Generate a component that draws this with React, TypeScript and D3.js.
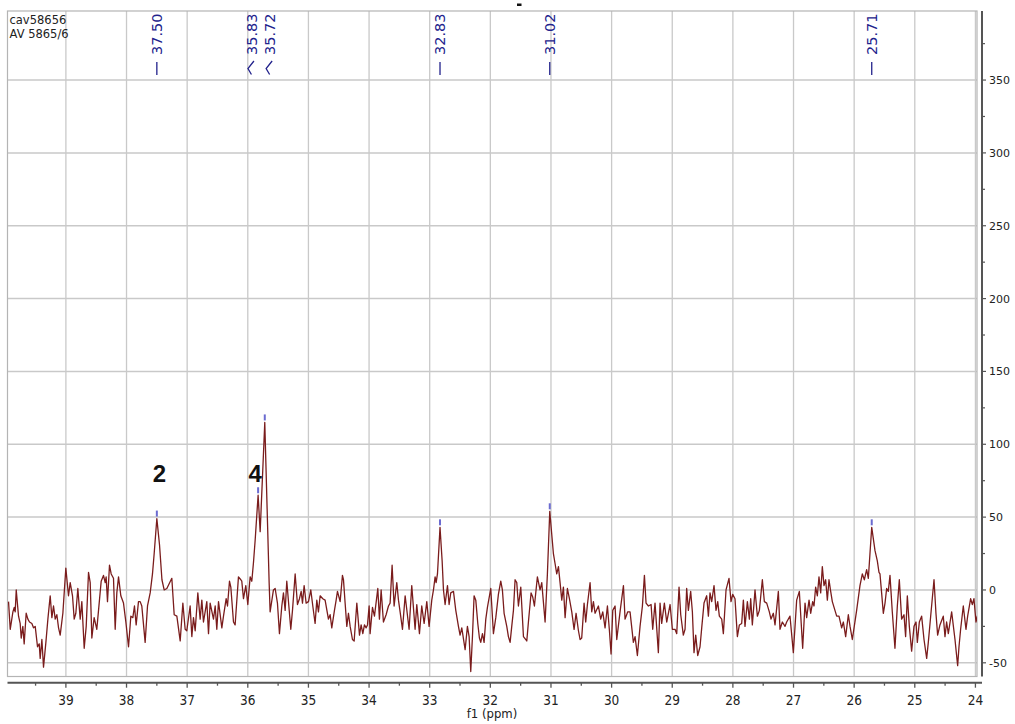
import React, { useEffect, useRef } from 'react';
import * as d3 from 'd3';

// 13C spectrum trace, [shift (ppm), intensity]
const spectrum: [number, number][] = [
  [39.946, -8], [39.918, -27], [39.874, -15], [39.852, -12], [39.836, -15], [39.819, 0], [39.781, -18],
  [39.754, -23], [39.737, -33], [39.710, -25], [39.688, -37], [39.655, -16], [39.627, -20], [39.600, -22],
  [39.561, -23], [39.534, -26], [39.506, -25], [39.468, -39], [39.440, -37], [39.424, -47], [39.396, -34],
  [39.369, -53], [39.330, -36], [39.297, -20], [39.259, -4], [39.231, -19], [39.204, -11], [39.176, -20],
  [39.149, -17], [39.121, -26], [39.094, -31], [39.050, -16], [39.001, 15], [38.957, -4], [38.929, 5],
  [38.891, -4], [38.863, -20], [38.836, -16], [38.803, 1], [38.764, -20], [38.737, -8], [38.698, -40],
  [38.665, -25], [38.627, 12], [38.599, 5], [38.572, -33], [38.534, -19], [38.490, -27], [38.451, -9],
  [38.418, 6], [38.380, 10], [38.352, 5], [38.336, 9], [38.314, -8], [38.281, 17], [38.253, 11],
  [38.215, 8], [38.187, -27], [38.160, -2], [38.132, 9], [38.094, -4], [38.050, -9], [38.011, -22],
  [37.967, -39], [37.929, -18], [37.896, -19], [37.869, -11], [37.841, -24], [37.803, -8], [37.775, -8],
  [37.748, -11], [37.693, -36], [37.654, -11], [37.610, -2], [37.572, 11], [37.544, 25], [37.500, 49],
  [37.456, 31], [37.416, 7], [37.379, 0], [37.335, 1], [37.253, 8], [37.214, -17], [37.170, -18],
  [37.115, -35], [37.071, -9], [37.033, -27], [37.006, -28], [36.951, -11], [36.923, -32], [36.896, -19],
  [36.868, -28], [36.824, -2], [36.786, -20], [36.758, -7], [36.731, -22], [36.676, -8], [36.648, -30],
  [36.621, -9], [36.566, -20], [36.538, -11], [36.511, -27], [36.483, -8], [36.428, -26], [36.401, -18],
  [36.357, -6], [36.335, -11], [36.302, 6], [36.280, 2], [36.236, -22], [36.209, -24], [36.154, 9],
  [36.115, 7], [36.099, 6], [36.071, -6], [36.033, 3], [36.000, -10], [35.961, 9], [35.934, 6],
  [35.906, 19], [35.879, 34], [35.830, 65], [35.796, 40], [35.720, 115], [35.648, 5], [35.632, -15],
  [35.577, 0], [35.549, 1], [35.511, -9], [35.478, -30], [35.439, -11], [35.412, -2], [35.384, -14],
  [35.357, 6], [35.291, -27], [35.263, -14], [35.219, 11], [35.181, -10], [35.148, -6], [35.120, -1],
  [35.098, -9], [35.071, 3], [35.038, -9], [34.999, -8], [34.961, 0], [34.928, -11], [34.890, -23],
  [34.862, -7], [34.835, -15], [34.807, -4], [34.763, -6], [34.725, -7], [34.670, -20], [34.642, -17],
  [34.615, -26], [34.571, -14], [34.543, -7], [34.521, -1], [34.477, -8],
  [34.439, 10], [34.422, 7], [34.395, -9], [34.367, -25], [34.340, -16], [34.312, -25], [34.274, -34],
  [34.246, -35], [34.202, -9], [34.158, -31], [34.131, -24], [34.103, -30], [34.076, -24], [34.048, -26],
  [34.026, -24], [33.999, -11], [33.983, -30], [33.944, -12], [33.911, -18], [33.856, 1], [33.829, -20],
  [33.801, 0], [33.763, -22], [33.719, -17], [33.680, -11], [33.653, -9], [33.620, 17], [33.587, -11],
  [33.543, 5], [33.515, -7], [33.488, -15], [33.449, -27], [33.405, -4], [33.340, -27], [33.296, 3],
  [33.241, -27], [33.213, -10], [33.169, -30], [33.131, -11], [33.092, -23], [33.048, -8], [33.010, -25],
  [32.966, -7], [32.938, 0], [32.911, 9], [32.894, 5], [32.872, 11], [32.830, 43], [32.795, 20],
  [32.773, 0], [32.746, -10], [32.707, 3], [32.680, -10], [32.653, -2], [32.608, -1], [32.570, -14],
  [32.526, -25], [32.499, -31], [32.471, -26], [32.416, -41], [32.378, -25], [32.350, -32], [32.323, -56],
  [32.295, -32], [32.268, -4], [32.240, -7], [32.207, -23], [32.180, -33], [32.158, -36], [32.130, -30],
  [32.103, -36], [32.075, -20], [32.048, -12], [31.993, 1], [31.949, -30], [31.910, -19], [31.867, -3],
  [31.828, 6], [31.801, 0], [31.773, -16], [31.729, -25], [31.702, -32], [31.674, -36], [31.647, -25],
  [31.619, -14], [31.592, 7], [31.564, 5], [31.537, -11], [31.498, 2], [31.454, -32], [31.399, -35],
  [31.372, -22], [31.328, -2], [31.300, -5], [31.273, -11], [31.224, 9], [31.180, 0], [31.152, 5],
  [31.097, -22], [31.059, 11], [31.020, 54], [30.960, 25], [30.932, 18], [30.905, 11], [30.877, 16],
  [30.850, 5], [30.822, -7], [30.795, 2], [30.767, -19], [30.729, 1], [30.696, -6], [30.657, -15],
  [30.619, -27], [30.586, -16], [30.547, -28], [30.520, -34], [30.493, -33], [30.454, -9], [30.427, -22],
  [30.399, -10], [30.355, 5], [30.328, -15], [30.300, -8], [30.273, -16], [30.218, -11], [30.180, -20],
  [30.146, -15], [30.108, -26], [30.069, -11], [30.036, -28], [30.009, -44], [29.981, -14], [29.943, -11],
  [29.915, -34], [29.861, -15], [29.805, 3], [29.778, -20], [29.734, -15], [29.696, -15], [29.641, -36],
  [29.613, -32], [29.575, -45], [29.531, -25], [29.492, -11], [29.459, 10], [29.432, -9], [29.393, -11],
  [29.349, -10], [29.322, -27], [29.284, -9], [29.229, -43], [29.201, -9], [29.174, -23], [29.130, -9],
  [29.091, -22], [29.036, -10],
  [28.998, -27], [28.954, -27], [28.926, -30], [28.888, 2], [28.860, -17], [28.817, -31], [28.789, -27],
  [28.762, 1], [28.734, -14], [28.696, -1], [28.668, -15], [28.641, -43], [28.613, -31], [28.580, -45],
  [28.542, -39], [28.514, -26], [28.476, -9], [28.432, -4], [28.404, -18], [28.377, -2], [28.349, -8],
  [28.311, 3], [28.278, -14], [28.250, -8], [28.223, -18], [28.184, -20], [28.157, -30], [28.113, 0],
  [28.064, 8], [28.031, -8], [28.003, -3], [27.965, -6], [27.926, -32], [27.893, -24], [27.855, -23],
  [27.827, -7], [27.800, -25], [27.761, -8], [27.728, -20], [27.706, -6], [27.679, -24], [27.635, 0],
  [27.596, -18], [27.563, -14], [27.514, 7], [27.481, -8], [27.442, -9], [27.399, -15], [27.371, -20],
  [27.333, -16], [27.305, -24], [27.250, -1], [27.223, -27], [27.184, -22], [27.140, -25], [27.113, -22],
  [27.058, -18], [27.003, -43], [26.975, -25], [26.948, -7], [26.904, -1], [26.849, -40], [26.810, -9],
  [26.783, -19], [26.744, -7], [26.717, -16], [26.684, -8], [26.662, -11], [26.635, 2], [26.607, -4],
  [26.580, 9], [26.552, -2], [26.525, 16], [26.497, 3], [26.470, 7], [26.442, -7], [26.415, 7],
  [26.387, -1], [26.360, -8], [26.288, -18], [26.250, -18], [26.206, -26], [26.178, -22], [26.140, -32],
  [26.096, -17], [26.068, -25], [26.030, -34], [25.959, -14], [25.904, 3], [25.865, 11], [25.832, 7],
  [25.794, 14], [25.766, 8], [25.739, 25], [25.710, 43], [25.656, 27], [25.618, 20], [25.590, 12],
  [25.574, 11], [25.547, -2], [25.519, -16], [25.491, -9], [25.464, 1], [25.437, -1], [25.409, 10],
  [25.371, -15], [25.327, -40], [25.288, -11], [25.255, 7], [25.217, -20], [25.178, -17], [25.151, -32],
  [25.123, -4], [25.090, -25], [25.052, -42], [25.013, -25], [24.980, -22], [24.958, -36], [24.925, -22],
  [24.887, -18], [24.848, -34], [24.804, -47], [24.777, -36], [24.738, -18], [24.683, 7], [24.651, -16],
  [24.623, -31], [24.585, -24], [24.530, -18], [24.502, -32], [24.475, -22], [24.447, -30], [24.392, -15],
  [24.337, -34], [24.293, -52], [24.271, -39], [24.244, -27], [24.200, -11], [24.156, -27], [24.128, -18],
  [24.079, -6], [24.051, -10], [24.024, -6], [23.991, -22], [23.969, -18], [23.952, -28],
];

// picked peaks
const peakShift = [37.50, 35.83, 35.72, 32.83, 31.02, 25.71];
const peakHeight = [49, 65, 115, 43, 54, 43];
const peakText = ['37.50', '35.83', '35.72', '32.83', '31.02', '25.71'];
const peakLabelShift = [37.50, 35.94, 35.64, 32.83, 31.02, 25.71];

// assignment numbers drawn on the spectrum
const assignText = ['2', '4'];
const assignShift = [37.457, 35.879];
const assignHeight = [74, 74];

const xTicks = d3.range(39, 23, -1);
const xMinor = d3.range(39.5, 23.9, -1);
const yTicks = [-50, 0, 50, 100, 150, 200, 250, 300, 350];
const yMinor = [-25, 25, 75, 125, 175, 225, 275, 325, 375];

const WIDTH = 1015;
const HEIGHT = 724;
const plot = { left: 7.5, right: 977, top: 11, bottom: 676.5 };

const App = () => {
  const svgRef = useRef<SVGSVGElement>(null);

  useEffect(() => {
    const svg = d3.select(svgRef.current);
    svg.selectAll('*').remove();

    const x = d3.scaleLinear().domain([39.963, 23.974]).range([plot.left, plot.right]);
    const y = d3.scaleLinear().domain([-59.4, 397.4]).range([plot.bottom, plot.top]);

    svg.append('rect').attr('width', WIDTH).attr('height', HEIGHT).attr('fill', '#fff');

    // grid
    svg.selectAll('.vgrid')
      .data(xTicks)
      .enter()
      .append('line')
      .attr('x1', d => x(d))
      .attr('x2', d => x(d))
      .attr('y1', plot.top)
      .attr('y2', plot.bottom)
      .attr('stroke', '#c9c9c9')
      .attr('stroke-width', 1.3);

    svg.selectAll('.hgrid')
      .data(yTicks)
      .enter()
      .append('line')
      .attr('x1', plot.left)
      .attr('x2', plot.right)
      .attr('y1', d => y(d))
      .attr('y2', d => y(d))
      .attr('stroke', '#c9c9c9')
      .attr('stroke-width', 1.5);

    svg.append('rect')
      .attr('x', plot.left)
      .attr('y', plot.top)
      .attr('width', plot.right - plot.left)
      .attr('height', plot.bottom - plot.top)
      .attr('fill', 'none')
      .attr('stroke', '#b4b4b4')
      .attr('stroke-width', 1.2);

    // spectrum
    svg.append('clipPath').attr('id', 'plotclip')
      .append('rect')
      .attr('x', plot.left).attr('y', plot.top)
      .attr('width', plot.right - plot.left).attr('height', plot.bottom - plot.top);

    const line = d3.line<[number, number]>()
      .x(d => x(d[0]))
      .y(d => y(d[1]));

    svg.append('path')
      .datum(spectrum)
      .attr('d', line)
      .attr('fill', 'none')
      .attr('stroke', '#7a1c1c')
      .attr('stroke-width', 1.3)
      .attr('stroke-linejoin', 'round')
      .attr('clip-path', 'url(#plotclip)');

    // peak tick marks above the tops
    svg.selectAll('.pmark')
      .data(peakShift)
      .enter()
      .append('line')
      .attr('x1', d => x(d))
      .attr('x2', d => x(d))
      .attr('y1', (d, i) => y(peakHeight[i]) - 8)
      .attr('y2', (d, i) => y(peakHeight[i]) - 2)
      .attr('stroke', '#6b6bd0')
      .attr('stroke-width', 2);

    // peak labels
    const labelColor = '#22228c';
    peakText.forEach((t, i) => {
      const lx = x(peakLabelShift[i]);
      svg.append('text')
        .attr('transform', `translate(${lx},55) rotate(-90)`)
        .attr('dy', '0.36em')
        .attr('text-anchor', 'start')
        .style('font-family', "'DejaVu Sans', Verdana, sans-serif")
        .style('font-size', '14.5px')
        .style('fill', labelColor)
        .text(t);
      const shifted = Math.abs(peakLabelShift[i] - peakShift[i]) > 0.001;
      svg.append('path')
        .attr('d', shifted
          ? `M${lx + 2.5},61 L${lx - 3.5},68.5 L${lx},74.5`
          : `M${lx},62 L${lx},75`)
        .attr('fill', 'none')
        .attr('stroke', labelColor)
        .attr('stroke-width', 1.3);
    });

    // assignment numbers
    svg.selectAll('.assign')
      .data(assignText)
      .enter()
      .append('text')
      .attr('x', (d, i) => x(assignShift[i]))
      .attr('y', (d, i) => y(assignHeight[i]))
      .attr('text-anchor', 'middle')
      .style('font-family', "'Liberation Sans', Arial, sans-serif")
      .style('font-weight', 'bold')
      .style('font-size', '24px')
      .style('fill', '#111')
      .text(d => d);

    // right axis
    const axisColor = '#555';
    const axisX = 982;
    svg.append('line')
      .attr('x1', axisX).attr('x2', axisX)
      .attr('y1', plot.top).attr('y2', plot.bottom)
      .attr('stroke', axisColor).attr('stroke-width', 2);

    svg.selectAll('.ytick')
      .data(yTicks)
      .enter()
      .append('line')
      .attr('x1', axisX).attr('x2', axisX + 4)
      .attr('y1', d => y(d)).attr('y2', d => y(d))
      .attr('stroke', axisColor).attr('stroke-width', 1.2);

    svg.selectAll('.yminor')
      .data(yMinor)
      .enter()
      .append('line')
      .attr('x1', axisX).attr('x2', axisX + 3)
      .attr('y1', d => y(d)).attr('y2', d => y(d))
      .attr('stroke', axisColor).attr('stroke-width', 1.2);

    svg.selectAll('.ylabel')
      .data(yTicks)
      .enter()
      .append('text')
      .attr('x', 989)
      .attr('y', d => y(d))
      .attr('dy', '0.36em')
      .style('font-family', "'DejaVu Sans', Verdana, sans-serif")
      .style('font-size', '11px')
      .style('fill', '#222')
      .text(d => d);

    // bottom axis
    const axisY = 682.7;
    svg.append('line')
      .attr('x1', plot.left).attr('x2', axisX)
      .attr('y1', axisY).attr('y2', axisY)
      .attr('stroke', axisColor).attr('stroke-width', 2);

    svg.selectAll('.xtick')
      .data(xTicks)
      .enter()
      .append('line')
      .attr('x1', d => x(d)).attr('x2', d => x(d))
      .attr('y1', axisY).attr('y2', axisY + 5)
      .attr('stroke', axisColor).attr('stroke-width', 1.3);

    svg.selectAll('.xminor')
      .data(xMinor)
      .enter()
      .append('line')
      .attr('x1', d => x(d)).attr('x2', d => x(d))
      .attr('y1', axisY).attr('y2', axisY + 3)
      .attr('stroke', axisColor).attr('stroke-width', 1.3);

    const narrow = "'Liberation Sans Narrow', 'DejaVu Sans Condensed', sans-serif";
    svg.selectAll('.xlabel')
      .data(xTicks)
      .enter()
      .append('text')
      .attr('x', d => x(d))
      .attr('y', 705)
      .attr('text-anchor', 'middle')
      .style('font-family', narrow)
      .style('font-size', '13.5px')
      .style('fill', '#222')
      .text(d => d);

    svg.append('text')
      .attr('x', 492)
      .attr('y', 718)
      .attr('text-anchor', 'middle')
      .style('font-family', narrow)
      .style('font-size', '13px')
      .style('fill', '#222')
      .text('f1 (ppm)');

    // file info
    svg.append('text')
      .attr('x', 9.5).attr('y', 24)
      .style('font-family', "'DejaVu Sans', Verdana, sans-serif")
      .style('font-size', '11.5px')
      .style('fill', '#222')
      .text('cav58656');
    svg.append('text')
      .attr('x', 9.5).attr('y', 37.5)
      .style('font-family', "'DejaVu Sans', Verdana, sans-serif")
      .style('font-size', '11.5px')
      .style('fill', '#222')
      .text('AV 5865/6');

    // small mark on top edge
    svg.append('rect')
      .attr('x', 517).attr('y', 3.5)
      .attr('width', 4.5).attr('height', 2.5)
      .attr('fill', '#111');
  }, []);

  return (
    <>
      <style>{'body{margin:0}'}</style>
      <svg ref={svgRef} width={WIDTH} height={HEIGHT} style={{ display: 'block' }}></svg>
    </>
  );
};

export default App;
